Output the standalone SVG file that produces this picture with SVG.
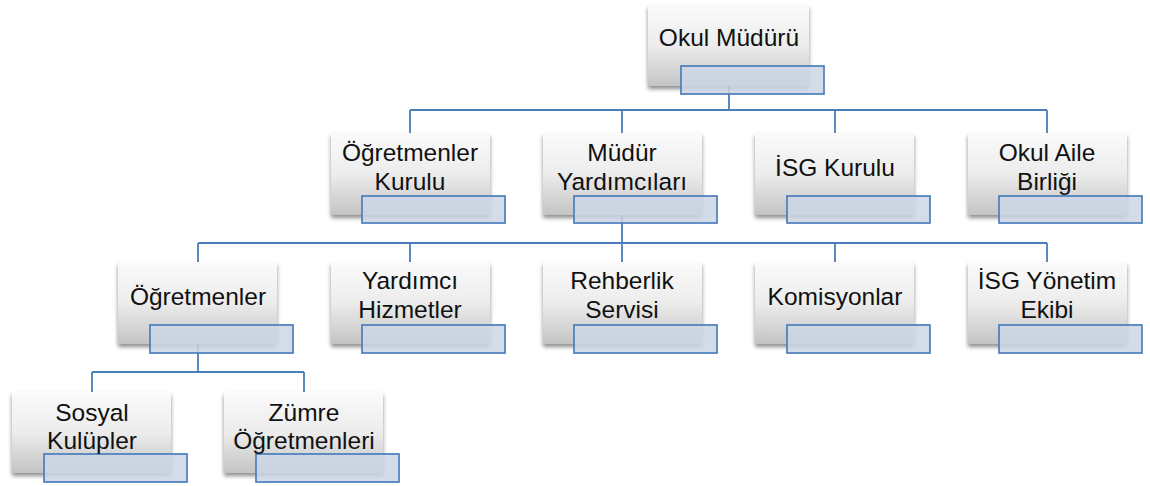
<svg xmlns="http://www.w3.org/2000/svg" width="1150" height="486" viewBox="0 0 1150 486">
<defs>
<linearGradient id="g" x1="0" y1="0" x2="0" y2="1">
<stop offset="0" stop-color="#fbfbfb"/>
<stop offset="0.5" stop-color="#ececec"/>
<stop offset="1" stop-color="#c4c4c4"/>
</linearGradient>
<filter id="sh" x="-10%" y="-10%" width="130%" height="140%">
<feGaussianBlur in="SourceAlpha" stdDeviation="2"/>
<feOffset dx="0" dy="3" result="b"/>
<feComponentTransfer><feFuncA type="linear" slope="0.45"/></feComponentTransfer>
<feMerge><feMergeNode/><feMergeNode in="SourceGraphic"/></feMerge>
</filter>
</defs>
<style>
.box{fill:url(#g);filter:url(#sh)}
.sub{fill:#ccd6e5;fill-opacity:0.85;stroke:#4a7ebb;stroke-width:1.7}
.t{font-family:"Liberation Sans",Arial,sans-serif;font-size:24.5px;fill:#111;text-anchor:middle}
.c{fill:none;stroke:#4a7ebb;stroke-width:1.8}
</style>
<g id="connectors" class="c">
<path d="M729,85V110M410,110H1047M410,110V133M622,110V133M835,110V133M1047,110V133"/>
<path d="M622,215V243M198,243H1047M198,243V262M410,243V262M622,243V262M835,243V262M1047,243V262"/>
<path d="M198,344V372M92,372H304M92,372V392M304,372V392"/>
</g>
<g id="okul-muduru"><rect class="box" x="648" y="5" width="161" height="81"/><rect class="sub" x="681" y="66" width="143" height="28"/><text class="t" x="729" y="46">Okul Müdürü</text></g>
<g id="ogretmenler-kurulu"><rect class="box" x="331" y="133" width="159" height="82"/><rect class="sub" x="362" y="196" width="143" height="27"/><text class="t" x="410" y="161">Öğretmenler</text><text class="t" x="410" y="190">Kurulu</text></g>
<g id="mudur-yardimcilari"><rect class="box" x="543" y="133" width="159" height="82"/><rect class="sub" x="574" y="196" width="143" height="27"/><text class="t" x="622" y="161">Müdür</text><text class="t" x="622" y="190">Yardımcıları</text></g>
<g id="isg-kurulu"><rect class="box" x="755" y="133" width="159" height="82"/><rect class="sub" x="787" y="196" width="143" height="27"/><text class="t" x="835" y="176">İSG Kurulu</text></g>
<g id="okul-aile-birligi"><rect class="box" x="968" y="133" width="159" height="82"/><rect class="sub" x="999" y="196" width="143" height="27"/><text class="t" x="1047" y="161">Okul Aile</text><text class="t" x="1047" y="190">Birliği</text></g>
<g id="ogretmenler"><rect class="box" x="118" y="262" width="159" height="82"/><rect class="sub" x="150" y="325" width="143" height="28"/><text class="t" x="198" y="305">Öğretmenler</text></g>
<g id="yardimci-hizmetler"><rect class="box" x="331" y="262" width="159" height="82"/><rect class="sub" x="362" y="325" width="143" height="28"/><text class="t" x="410" y="289">Yardımcı</text><text class="t" x="410" y="318">Hizmetler</text></g>
<g id="rehberlik-servisi"><rect class="box" x="543" y="262" width="159" height="82"/><rect class="sub" x="574" y="325" width="143" height="28"/><text class="t" x="622" y="289">Rehberlik</text><text class="t" x="622" y="318">Servisi</text></g>
<g id="komisyonlar"><rect class="box" x="755" y="262" width="159" height="82"/><rect class="sub" x="787" y="325" width="143" height="28"/><text class="t" x="835" y="305">Komisyonlar</text></g>
<g id="isg-yonetim-ekibi"><rect class="box" x="968" y="262" width="159" height="82"/><rect class="sub" x="999" y="325" width="143" height="28"/><text class="t" x="1047" y="289">İSG Yönetim</text><text class="t" x="1047" y="318">Ekibi</text></g>
<g id="sosyal-kulupler"><rect class="box" x="12" y="392" width="159" height="81"/><rect class="sub" x="44" y="454" width="143" height="28"/><text class="t" x="92" y="421">Sosyal</text><text class="t" x="92" y="449">Kulüpler</text></g>
<g id="zumre-ogretmenleri"><rect class="box" x="224" y="392" width="159" height="81"/><rect class="sub" x="256" y="454" width="143" height="28"/><text class="t" x="304" y="421">Zümre</text><text class="t" x="304" y="449">Öğretmenleri</text></g>
</svg>
